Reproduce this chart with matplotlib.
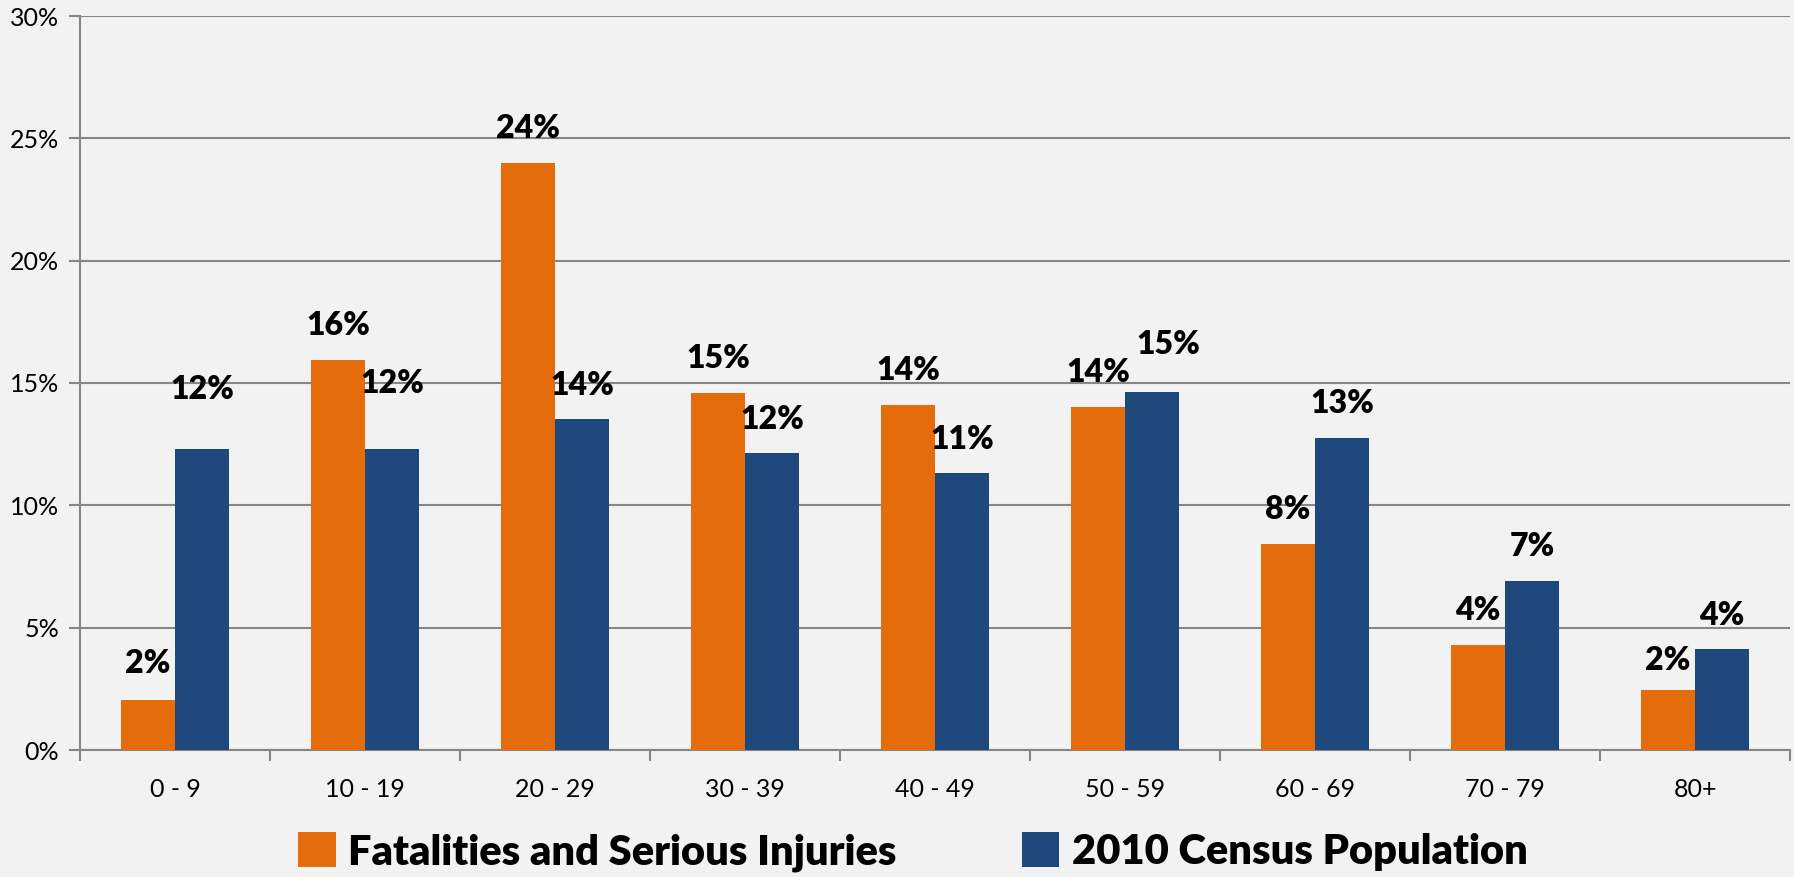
import matplotlib
matplotlib.use("Agg")
import matplotlib.pyplot as plt
import numpy as np
from matplotlib.patches import Patch
from matplotlib.ticker import PercentFormatter, FixedLocator, NullFormatter

categories = ["0 - 9", "10 - 19", "20 - 29", "30 - 39", "40 - 49",
              "50 - 59", "60 - 69", "70 - 79", "80+"]
fatalities = [2.06, 15.95, 24.0, 14.6, 14.12, 14.03, 8.42, 4.3, 2.44]
census = [12.3, 12.3, 13.52, 12.12, 11.31, 14.63, 12.77, 6.92, 4.12]
fat_labels = ["2%", "16%", "24%", "15%", "14%", "14%", "8%", "4%", "2%"]
cen_labels = ["12%", "12%", "14%", "12%", "11%", "15%", "13%", "7%", "4%"]
series_names = ["Fatalities and Serious Injuries", "2010 Census Population"]

ORANGE = "#E46C0A"
BLUE = "#1F497D"
BG = "#F2F2F2"
GRID = "#868686"

plt.rcParams['font.family'] = ['Lato', 'DejaVu Sans']

fig = plt.figure(figsize=(17.94, 8.77), dpi=100, facecolor=BG)
ax = fig.add_axes([80/1794, 1-750/877, 1710/1794, 734/877])
ax.set_facecolor(BG)

x = np.arange(len(categories))
w = 0.284
b1 = ax.bar(x - w/2, fatalities, w, color=ORANGE, zorder=3)
b2 = ax.bar(x + w/2, census, w, color=BLUE, zorder=3)

# label offsets in pixels (extra lift for a few labels as in the reference)
base_off = 34
fat_extra = [2, 0, 0, 0, 0, 0, 0, 0, -4]
cen_extra = [26, 32, 0, 0, 0, 14, 0, 0, 0]
cen_dx = [0, 0, 0, 0, 0, 16, 0, 0, 0]
for i in range(len(categories)):
    ax.annotate(fat_labels[i], (x[i] - w/2, fatalities[i]),
                xytext=(0, base_off + fat_extra[i]), textcoords='offset pixels',
                ha='center', va='center', fontsize=23, fontweight='heavy', color='black', zorder=4)
    ax.annotate(cen_labels[i], (x[i] + w/2, census[i]),
                xytext=(cen_dx[i], base_off + cen_extra[i]), textcoords='offset pixels',
                ha='center', va='center', fontsize=23, fontweight='heavy', color='black', zorder=4)

ax.set_xlim(-0.5, len(categories) - 0.5)
ax.set_ylim(0, 30)
ax.set_yticks(np.arange(0, 31, 5))
ax.yaxis.set_major_formatter(PercentFormatter(decimals=0))
ax.yaxis.grid(True, color=GRID, linewidth=1.5, zorder=0)
ax.set_axisbelow(True)

ax.set_xticks(x)
ax.set_xticklabels(categories, fontsize=18)
ax.xaxis.set_minor_locator(FixedLocator(np.arange(-0.5, len(categories), 1.0)))
ax.xaxis.set_minor_formatter(NullFormatter())
ax.tick_params(axis='x', which='major', length=0, pad=20)
ax.tick_params(axis='x', which='minor', length=8, width=1.5, color=GRID)
ax.tick_params(axis='y', length=8, width=1.5, color=GRID, labelsize=18, pad=7)

for s in ['top', 'right']:
    ax.spines[s].set_visible(False)
for s in ['left', 'bottom']:
    ax.spines[s].set_color(GRID)
    ax.spines[s].set_linewidth(1.5)

handles = [Patch(facecolor=ORANGE), Patch(facecolor=BLUE)]
leg = fig.legend(handles, series_names, loc='center', ncol=2,
                 bbox_to_anchor=(913/1794, 1-852/877), frameon=False,
                 prop={'family': ['Lato'], 'weight': 'heavy', 'size': 30},
                 handlelength=0.9, handleheight=0.9, handletextpad=0.3, columnspacing=3.0)

fig.savefig("out.png", dpi=100, facecolor=BG)
